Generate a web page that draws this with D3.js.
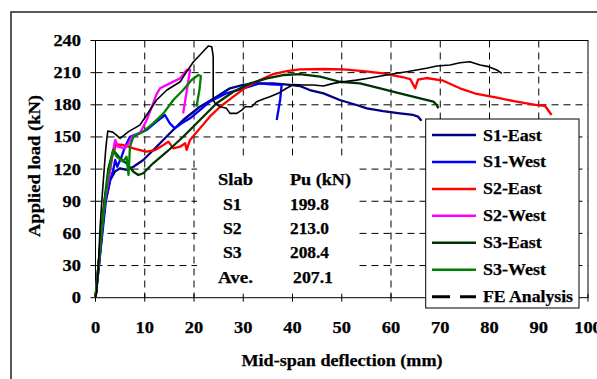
<!DOCTYPE html>
<html>
<head>
<meta charset="utf-8">
<script src="https://cdn.jsdelivr.net/npm/d3@7/dist/d3.min.js"></script>
<style>
  body { margin: 0; background: #fff; }
  svg text { font-family: "Liberation Serif", "Times New Roman", serif; font-weight: bold; fill: #000; stroke: #000; stroke-width: 0.25; }
</style>
</head>
<body>
<div id="chart"></div>
<script>
// ---- data (deflection mm, load kN) ----
const seriesNames = ['S1-East', 'S1-West', 'S2-East', 'S2-West', 'S3-East', 'S3-West', 'FE Analysis'];
const seriesColors = ['#000080', '#0000ff', '#ff0000', '#ff00ff', '#003300', '#008000', '#000000'];

const s1East = [[0,0],[0.7,30],[1.3,60],[2.0,90],[3.0,110],[4.0,118],[5,120.7],[6.3,119.2],[7.7,122.2],[9.7,128.5],
  [12.4,140.9],[15.1,153.4],[17.8,165.8],[21.2,178.2],[24.6,187.6],[27.3,195.4],[30,198.5],[32.7,200],[36,200],
  [39.5,198.5],[41.5,197.5],[43.5,193.8],[46.3,190.7],[49.6,184.5],[53,179.8],[55.1,176.7],[58.4,174.2],
  [61.8,172],[64.5,170.5],[65.5,168.9],[66.2,165.2]];
const s1West = [[0,0],[0.7,30],[1.4,60],[2.1,90],[3.0,110],[3.6,119.2],[4.0,128.5],[4.4,122.2],[5.3,131.6],[6,140.9],
  [7,150.2],[8.4,152.7],[10.4,156.5],[12.4,164.2],[14.1,170.5],[15.1,162.7],[16.1,158],[17.5,162.7],[19.2,167.4],
  [21.2,175.1],[23.2,182.9],[26.6,190.7],[30,195.4],[33.4,200],[35.5,199],[37.8,198.5],[37.5,185],[36.8,165.8]];
const s2East = [[0,0],[0.6,30],[1.2,60],[1.8,90],[2.6,110],[3.4,132],[4.2,143],[5.6,142.5],[6.7,140.9],[7.7,139.4],
  [9,137.8],[10.4,136.2],[12.1,137.8],[13.8,142.5],[14.8,145.6],[15.8,139.4],[17.2,140.9],[18.2,144.1],[18.5,138],
  [19.2,147.2],[21.2,158],[23.2,168.9],[25.3,178.2],[28,187.6],[30.7,196.9],[33.4,203.1],[36.1,208.7],[38.8,211.5],
  [41.5,213.1],[46.3,213.4],[50.3,213.1],[54.4,211.5],[58.4,209.4],[62.5,205.7],[63.9,204],[64.9,195.4],[65.5,203.5],
  [67.2,205],[70.6,202.5],[74,195.4],[77.4,190.1],[81.5,186.6],[85.5,182.9],[89.6,179.8],[91.3,178.9],[92.6,170.5]];
const s2West = [[0,0],[0.6,30],[1.2,60],[1.9,90],[2.8,115],[3.5,135],[4,147.1],[4.6,140.9],[6,139.4],[6.7,144],
  [7.4,150.2],[9,153.4],[10.4,165.8],[11.7,181.4],[12.4,190],[13.1,195.4],[15.1,200],[17.2,204.7],[18.5,212.5],
  [19.2,212.5],[18.5,192],[17.8,172]];
const s3East = [[0,0],[0.6,30],[1.2,60],[1.8,90],[2.6,120],[3.6,137.8],[5,130],[6.3,125.4],[7.7,117.6],[8.7,114.5],
  [9.7,116.1],[11.7,125.4],[14.5,136.2],[17.8,150.2],[21.2,165.8],[24.6,181.4],[28,192.2],[31.4,200],[34.8,204.7],
  [38.1,207.8],[41.5,208.7],[45.6,206.2],[49.6,201.5],[53.7,200],[57.8,195.4],[61.8,190.7],[65.9,186.1],
  [68.6,182.9],[69.3,179.8],[69.6,176.7]];
const s3West = [[0,0],[0.6,30],[1.2,60],[1.9,90],[2.6,115],[3.6,137.8],[4.3,131.6],[5.6,126.9],[6.3,131.6],[6.7,114.5],
  [7,140.9],[7.7,150.2],[9.7,155],[11.7,162.7],[13.8,172],[15.8,184.5],[17.8,193.8],[19.5,203.1],[20.9,207.8],
  [21.4,206.9],[21.1,193.8],[20.5,178.2]];
const feAnalysis = [[0,0],[0.24,5],[0.57,29],[0.9,63],[1.25,88],[1.6,110],[2.07,138],[2.27,147],[2.5,155.5],[3.5,154.5],
  [4.2,152],[5,148.7],[6.7,155],[9,161],[10.4,170.5],[12.4,184.5],[14.5,193.8],[17.2,201.5],[18.5,210.9],[19.9,220.2],
  [21.2,226.5],[22.9,234.9],[23.6,234.2],[23.9,225],[23.9,184.5],[24.3,181.4],[25.3,178.2],[26.6,176.7],[27.3,172],
  [28.7,172],[29.7,175.1],[30.4,178.2],[31.7,178.2],[32.7,182.9],[34.1,185.4],[35.4,187.6],[37.1,190.7],[38.8,195.4],
  [40.2,199],[42.2,198.5],[44.2,198.5],[46.3,197.5],[48.3,200],[50.3,201.5],[53,203],[55.1,204.6],[57.1,206.2],
  [59.1,207.8],[61.2,209.4],[63.2,210.9],[65.2,212.5],[67.2,214.1],[69.3,216.2],[72,217.1],[74,219.3],[76,220.2],
  [78.1,217.1],[79.8,215.6],[81.5,212.5],[82.5,209.4]];
const seriesData = [s1East, s1West, s2East, s2West, s3East, s3West, feAnalysis];

const xTicks = [0, 10, 20, 30, 40, 50, 60, 70, 80, 90, 100];
const yTicks = [0, 30, 60, 90, 120, 150, 180, 210, 240];

const tableRows = [['Slab', 'Pu (kN)'], ['S1', '199.8'], ['S2', '213.0'], ['S3', '208.4'], ['Ave.', '207.1']];

// ---- layout ----
const width = 597, height = 379;
const plotL = 95.5, plotR = 588, plotT = 40.5, plotB = 297.7;

const svg = d3.select('#chart').append('svg')
  .attr('width', width).attr('height', height);

svg.append('rect').attr('width', width).attr('height', height).attr('fill', '#fff');

// outer frame (clipped at right/bottom)
svg.append('path').attr('d', `M11,${height} L11,12 L${width},12`)
  .attr('fill', 'none').attr('stroke', '#222').attr('stroke-width', 1.5);

const x = d3.scaleLinear().domain([0, 100]).range([plotL, plotR]);
const y = d3.scaleLinear().domain([0, 240]).range([plotB, plotT]);

// grid
const grid = svg.append('g').attr('stroke', '#000').attr('stroke-width', 1).attr('stroke-dasharray', '7,5');
xTicks.slice(1, -1).forEach(t => {
  grid.append('line').attr('x1', x(t)).attr('x2', x(t)).attr('y1', plotT).attr('y2', plotB);
});
yTicks.slice(1, -1).forEach(t => {
  grid.append('line').attr('x1', plotL).attr('x2', plotR).attr('y1', y(t)).attr('y2', y(t));
});

// white text box behind the Pu table
svg.append('rect')
  .attr('x', 197).attr('y', 157).attr('width', 160).attr('height', plotB - 158)
  .attr('fill', '#fff');

// plot border
svg.append('rect')
  .attr('x', plotL).attr('y', plotT).attr('width', plotR - plotL).attr('height', plotB - plotT)
  .attr('fill', 'none').attr('stroke', '#000').attr('stroke-width', 1);

// ticks
xTicks.forEach(t => {
  svg.append('line').attr('x1', x(t)).attr('x2', x(t)).attr('y1', plotB - 4).attr('y2', plotB + 4)
    .attr('stroke', '#000');
  svg.append('text').attr('x', x(t)).attr('y', plotB + 35)
    .attr('text-anchor', 'middle').attr('font-size', 16)
    .attr('textLength', String(t).length * 9.2).attr('lengthAdjust', 'spacingAndGlyphs')
    .text(t);
});
yTicks.forEach(t => {
  svg.append('line').attr('x1', plotL - 5).attr('x2', plotL).attr('y1', y(t)).attr('y2', y(t))
    .attr('stroke', '#000');
  const w = String(t).length * 9.2;
  svg.append('text').attr('x', 81 - w).attr('y', y(t) + 5.5)
    .attr('font-size', 16)
    .attr('textLength', w).attr('lengthAdjust', 'spacingAndGlyphs')
    .text(t);
});

// axis titles
svg.append('text').attr('x', 342).attr('y', 366).attr('text-anchor', 'middle')
  .attr('font-size', 17).attr('textLength', 201).attr('lengthAdjust', 'spacingAndGlyphs')
  .text('Mid-span deflection (mm)');
svg.append('text')
  .attr('transform', 'translate(40,166) rotate(-90)')
  .attr('text-anchor', 'middle')
  .attr('font-size', 17).attr('textLength', 142).attr('lengthAdjust', 'spacingAndGlyphs')
  .text('Applied load (kN)');

// curves
const line = d3.line().x(d => x(d[0])).y(d => y(d[1]));
seriesData.forEach((data, i) => {
  svg.append('path').datum(data)
    .attr('d', line)
    .attr('fill', 'none')
    .attr('stroke', seriesColors[i])
    .attr('stroke-width', i === 6 ? 1.6 : 2.3)
    .attr('stroke-linejoin', 'round');
});

// table text
const colX = [[218, 223, 223, 223, 218], [290, 290, 290, 290, 293]];
const rowY = [185, 210, 234, 258, 283];
const widths = [[35, 18.7, 18.7, 18.7, 35], [61, 39, 39, 39, 40]];
tableRows.forEach((row, r) => {
  row.forEach((txt, c) => {
    svg.append('text').attr('x', colX[c][r]).attr('y', rowY[r])
      .attr('font-size', 16)
      .attr('textLength', widths[c][r]).attr('lengthAdjust', 'spacingAndGlyphs')
      .text(txt);
  });
});

// legend
const legend = svg.append('g');
legend.append('rect')
  .attr('x', 425.7).attr('y', 119).attr('width', 153.3).attr('height', 189)
  .attr('fill', '#fff').attr('stroke', '#000').attr('stroke-width', 1);
const legendW = [58.7, 63, 58.7, 63, 58.7, 63, 90];
seriesNames.forEach((name, i) => {
  const ly = 135 + i * 26.95;
  legend.append('line')
    .attr('x1', 432).attr('x2', 476).attr('y1', ly).attr('y2', ly)
    .attr('stroke', seriesColors[i]).attr('stroke-width', i === 6 ? 3 : 2.5)
    .attr('stroke-dasharray', i === 6 ? '18,10' : null);
  legend.append('text').attr('x', 483).attr('y', ly + 5.5)
    .attr('font-size', 16)
    .attr('textLength', legendW[i]).attr('lengthAdjust', 'spacingAndGlyphs')
    .text(name);
});
</script>
</body>
</html>
